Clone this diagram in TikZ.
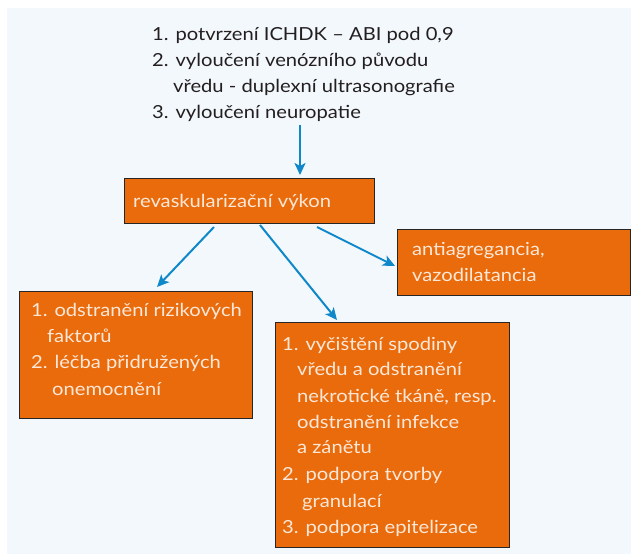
\documentclass[tikz,border=0pt]{standalone}
\usepackage{fontspec}
\setmainfont{Lato}[FakeStretch=1.12]
\usetikzlibrary{arrows.meta,calc}
\definecolor{panel}{HTML}{F3F8FC}
\definecolor{boxfill}{HTML}{E96B0C}
\definecolor{boxtext}{HTML}{FCE8D8}
\definecolor{arrowblue}{HTML}{0E88C9}
\definecolor{darktext}{HTML}{231F20}
\begin{document}
\begin{tikzpicture}[x=1pt,y=-1pt,
  box/.style={draw=black!85, line width=1pt, fill=boxfill, inner sep=0pt, anchor=north west},
  txt/.style={anchor=base west, inner sep=0pt, font=\fontsize{18}{22}\selectfont},
  intxt/.style={txt, text=boxtext},
  toptxt/.style={txt, text=darktext},
  arr/.style={draw=arrowblue, line width=2pt, -{Stealth[length=12pt,width=11pt,inset=3pt]}}]
\useasboundingbox (0,0) rectangle (631,554);
\fill[panel] (7,8) rectangle (631,554);

% top text
\node[toptxt] (t1) at (152,40) {1. potvrzení ICHDK – ABI pod 0,9};
\node[toptxt] (t2) at (152,66) {2. vyloučení venózního původu};
\node[toptxt] (t3) at (173,92) {vředu - duplexní ultrasonografie};
\node[toptxt] (t4) at (152,118) {3. vyloučení neuropatie};

% boxes
\node[box, minimum width=250pt, minimum height=45pt] (rev) at (124,178) {};
\node[box, minimum width=233pt, minimum height=66pt] (anti) at (397,229) {};
\node[box, minimum width=233pt, minimum height=127pt] (lb) at (19,291) {};
\node[box, minimum width=234pt, minimum height=225pt] (bb) at (275,322) {};

\node[intxt] (r1) at (133,207) {revaskularizační výkon};

\node[intxt] (a1) at (412,255) {antiagregancia,};
\node[intxt] (a2) at (412,281) {vazodilatancia};

\node[intxt] (l1) at (31,316) {1. odstranění rizikových};
\node[intxt] (l2) at (47,342) {faktorů};
\node[intxt] (l3) at (31,368) {2. léčba přidružených};
\node[intxt] (l4) at (52,395) {onemocnění};

\node[intxt] (b1) at (282,350) {1. vyčištění spodiny};
\node[intxt] (b2) at (297,375) {vředu a odstranění};
\node[intxt] (b3) at (297,402) {nekrotické tkáně, resp.};
\node[intxt] (b4) at (297,428) {odstranění infekce};
\node[intxt] (b5) at (297,453) {a zánětu};
\node[intxt] (b6) at (282,480) {2. podpora tvorby};
\node[intxt] (b7) at (302,507) {granulací};
\node[intxt] (b8) at (282,533) {3. podpora epitelizace};

% arrows
\coordinate (s0) at (300,125);
\draw[arr] (s0) -- ($(rev.north west)+(176,-3)$);
\draw[arr] ($(rev.south west)+(90,3)$) -- ($(lb.north west)+(138,-4)$);
\draw[arr] ($(rev.south west)+(136,1)$) -- ($(bb.north west)+(62,-2)$);
\draw[arr] ($(rev.south west)+(193,3)$) -- ($(anti.north west)+(-2,37)$);
\end{tikzpicture}
\end{document}
